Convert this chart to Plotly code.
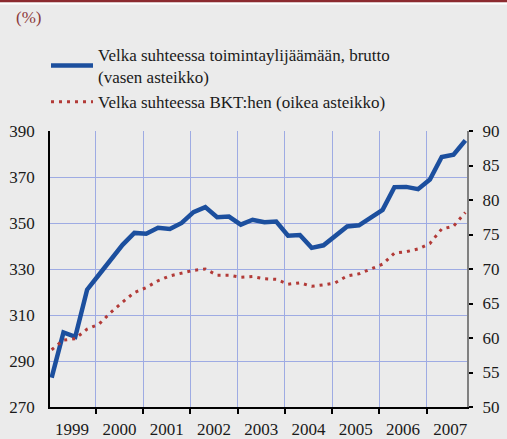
import plotly.graph_objects as go

# Quarterly data 1999Q1 .. 2007Q4
years = [1999, 2000, 2001, 2002, 2003, 2004, 2005, 2006, 2007]
quarters_per_year = 4

debt_to_surplus = [  # left axis, %
    282.8, 302.4, 300.5, 321.0,
    327.5, 334.0, 340.5, 345.7,
    345.3, 347.9, 347.4, 350.0,
    354.7, 356.9, 352.5, 352.8,
    349.3, 351.4, 350.3, 350.6,
    344.5, 344.8, 339.2, 340.3,
    344.5, 348.5, 349.0, 352.2,
    355.7, 365.6, 365.7, 364.7,
    368.9, 378.7, 379.7, 385.9,
]
debt_to_gdp = [  # right axis, %
    58.3, 59.7, 59.9, 61.3,
    62.0, 63.7, 65.2, 66.6,
    67.3, 68.3, 69.0, 69.4,
    69.8, 70.0, 69.1, 69.1,
    68.8, 68.9, 68.6, 68.5,
    67.8, 68.0, 67.5, 67.7,
    68.0, 69.0, 69.3, 70.0,
    70.7, 72.3, 72.5, 72.9,
    73.7, 75.8, 76.2, 78.2,
]
left_ticks = [270, 290, 310, 330, 350, 370, 390]
right_ticks = [50, 55, 60, 65, 70, 75, 80, 85, 90]

name1 = "Velka suhteessa toimintaylijäämään, brutto<br>(vasen asteikko)"
name2 = "Velka suhteessa BKT:hen (oikea asteikko)"

x = list(range(len(debt_to_surplus)))
off = -0.27
year_centers = [quarters_per_year * i + off + 2 for i in range(len(years))]
year_bounds = [quarters_per_year * i + off for i in range(len(years))]

FONT = "Liberation Serif"
GRID = "#9eabe3"

fig = go.Figure()
fig.add_trace(go.Scatter(x=x, y=debt_to_surplus, mode="lines", name=name1,
                         line=dict(color="#1c4f9e", width=4.5)))
fig.add_trace(go.Scatter(x=x, y=debt_to_gdp, mode="lines", name=name2, yaxis="y2",
                         line=dict(color="#b23a37", width=3, dash="3px,5px")))

W, H = 507, 439
L, R, T, B = 50, 40, 131, 32
ph = H - T - B
pw = W - L - R

fig.update_layout(
    width=W, height=H,
    margin=dict(l=L, r=R, t=T, b=B, autoexpand=False),
    paper_bgcolor="#ebebeb", plot_bgcolor="#ebebeb",
    font=dict(family=FONT, size=17, color="#1a1a1a"),
    showlegend=True,
    legend=dict(x=(46 - L) / pw, xanchor="left", y=(H - B - 37) / ph, yanchor="top",
                bgcolor="rgba(0,0,0,0)", font=dict(size=17, family=FONT),
                itemwidth=42, tracegroupgap=0),
    xaxis=dict(range=[-0.14, 35.14], tickmode="array", tickvals=year_centers,
               ticktext=[str(y) for y in years], ticks="", showgrid=False,
               showline=True, linecolor="black", linewidth=1.5, zeroline=False,
               ticklabelstandoff=6,
               minor=dict(tickmode="array", tickvals=year_bounds, showgrid=True,
                          gridcolor=GRID, gridwidth=1, ticks="outside", ticklen=5,
                          tickcolor="black", tickwidth=1.5)),
    yaxis=dict(range=[270, 390], tickmode="array", tickvals=left_ticks,
               showgrid=True, gridcolor=GRID, gridwidth=1, zeroline=False,
               showline=True, linecolor="black", linewidth=1.5, ticks="",
               ticklabelstandoff=10),
    yaxis2=dict(range=[50, 90], tickmode="array", tickvals=right_ticks,
                overlaying="y", side="right", showgrid=False, zeroline=False,
                showline=True, linecolor="#808080", linewidth=2, ticks="outside",
                ticklen=4, tickcolor="black", tickwidth=1.5, ticklabelstandoff=6),
    shapes=[
        dict(type="rect", xref="paper", yref="paper", x0=-L / pw, x1=1 + R / pw,
             y0=(H - B - 2.5) / ph, y1=(H - B + 1) / ph, fillcolor="#8c2b30", line_width=0,
             layer="above"),
        dict(type="rect", xref="paper", yref="paper", x0=-L / pw, x1=1 + R / pw,
             y0=(H - B - 4.5) / ph, y1=(H - B - 2.5) / ph, fillcolor="white", line_width=0,
             layer="above"),
    ],
    annotations=[
        dict(text="(%)", xref="paper", yref="paper", x=(14 - L) / pw, xanchor="left",
             y=(H - B - 18) / ph, yanchor="middle", showarrow=False,
             font=dict(family=FONT, size=17, color="#8c3a3c")),
    ],
)

fig.write_html("out.html", config={"displayModeBar": False},
               post_script="document.body.style.margin='0';document.body.style.overflow='hidden';")
